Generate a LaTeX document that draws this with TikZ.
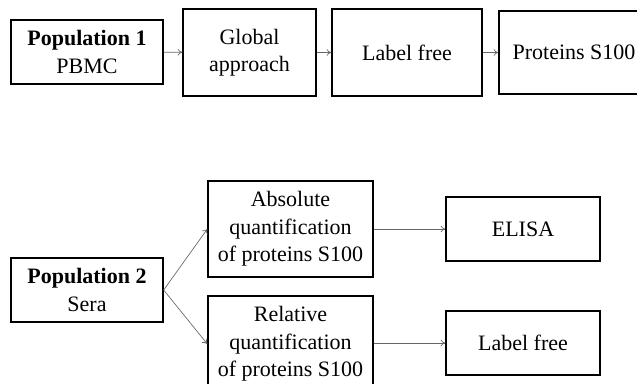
\documentclass[tikz,border=0pt]{standalone}
\usepackage{fontspec}
\setmainfont{Liberation Serif}
\usetikzlibrary{arrows.meta}

\begin{document}
\begin{tikzpicture}[x=0.75pt,y=-0.75pt,
  box/.style={draw,line width=1pt,align=center,inner sep=0pt,font=\fontsize{16.5}{20.6}\selectfont},
  link/.style={-{To[length=3.5pt,width=5pt]},draw=black!60,line width=0.5pt}]
\useasboundingbox (0,0) rectangle (637,383);
% Population 1 - global approach
\node[box,minimum width=114pt,minimum height=48pt] (pop1) at (87,52) {\textbf{Population 1}\\PBMC};
\node[box,minimum width=99.75pt,minimum height=65.25pt] (global) at (249.5,52.5) {Global\\approach};
\node[box,minimum width=112.5pt,minimum height=65.25pt] (lfree1) at (407,52.5) {Label free};
\node[box,minimum width=112.5pt,minimum height=62.25pt] (s100) at (574,52.5) {Proteins S100};
\draw[link] (pop1) -- (global);
\draw[link] (global) -- (lfree1);
\draw[link] (lfree1) -- (s100);

% Population 2 - absolute and relative quantification
\node[box,minimum width=114pt,minimum height=48pt] (pop2) at (87,290) {\textbf{Population 2}\\Sera};
\node[box,minimum width=123.75pt,minimum height=72pt] (absq) at (290.5,229) {Absolute\\quantification\\of proteins S100};
\node[box,minimum width=123.75pt,minimum height=72pt] (relq) at (290.5,344) {Relative\\quantification\\of proteins S100};
\node[box,minimum width=115.5pt,minimum height=48pt] (elisa) at (523,229) {ELISA};
\node[box,minimum width=115.5pt,minimum height=48pt] (lfree2) at (523,343) {Label free};
\draw[link] (pop2.east) -- (absq.west);
\draw[link] (pop2.east) -- (relq.west);
\draw[link] (absq) -- (elisa);
\draw[link] (relq.east |- lfree2.west) -- (lfree2.west);
\end{tikzpicture}
\end{document}
